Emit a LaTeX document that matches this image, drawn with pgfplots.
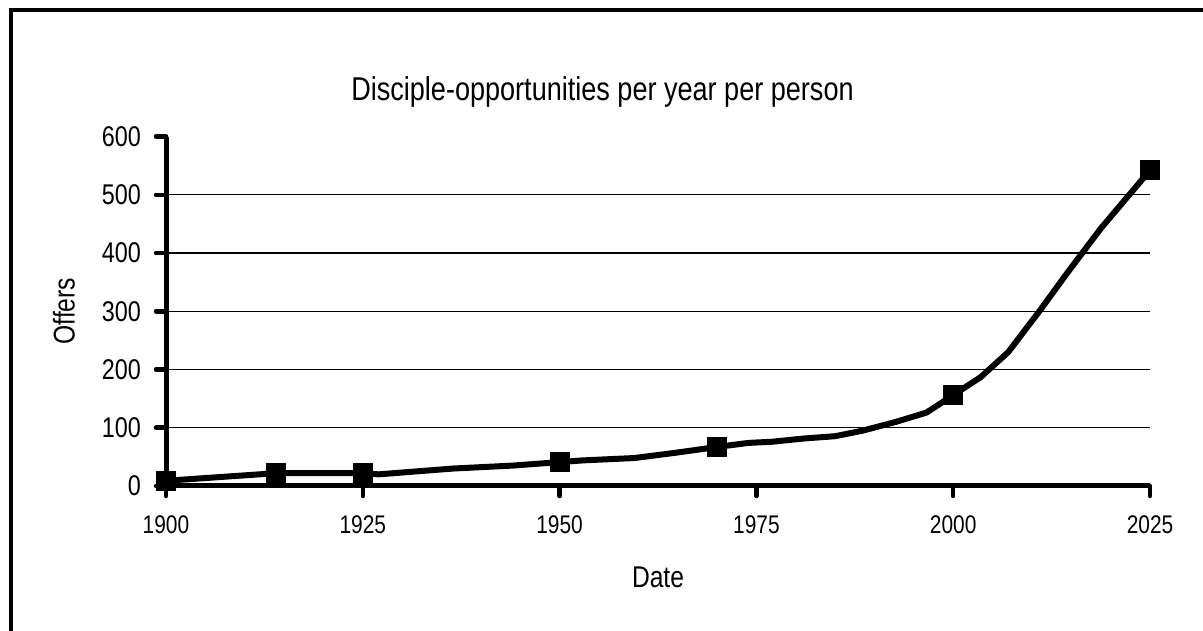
\documentclass[border=0pt]{standalone}
\usepackage{fontspec}
\setmainfont{Liberation Sans}[FakeStretch=0.82]
\usepackage{pgfplots}
\pgfplotsset{compat=1.18}
\begin{document}
\begin{tikzpicture}
\useasboundingbox (0,0) rectangle (1203bp,631bp);
\draw[line width=4bp] (10.5bp,0) -- (10.5bp,621bp) -- (1203bp,621bp);
\begin{axis}[
  at={(166bp,145bp)}, anchor=south west,
  scale only axis, width=984bp, height=349.5bp,
  xmin=1900, xmax=2025, ymin=0, ymax=600,
  axis x line=bottom, axis y line=left,
  axis line style={-, line width=5bp, black},
  xtick={1900,1925,1950,1975,2000,2025},
  ytick={0,100,200,300,400,500,600},
  tick align=outside, major tick length=10bp,
  major tick style={line width=4.5bp, line cap=round, black},
  extra y ticks={100,200,300,400,500},
  extra y tick labels={},
  extra y tick style={grid=major, major tick length=0pt},
  grid style={line width=1.3bp, black},
  clip=false,
  /pgf/number format/1000 sep={},
  /pgf/number format/assume math mode=true,
  xticklabel style={font=\fontsize{25.5bp}{30bp}\selectfont, inner sep=0pt, anchor=north, yshift=-19bp},
  yticklabel style={font=\fontsize{28.5bp}{34bp}\selectfont, inner sep=0pt, anchor=east, xshift=-15bp},
  title={Disciple-opportunities per year per person},
  title style={font=\fontsize{33bp}{40bp}\selectfont, at={(axis description cs:0.4436,1.0873)}, anchor=base, inner sep=0pt},
  xlabel={Date},
  xlabel style={font=\fontsize{30bp}{36bp}\selectfont, at={(axis description cs:0.5,-0.289)}, anchor=base, inner sep=0pt},
  ylabel={Offers},
  ylabel style={font=\fontsize{30bp}{36bp}\selectfont, at={(axis description cs:-0.1037,0.5)}, anchor=center, inner sep=0pt},
]
\addplot[black, line width=6bp, line join=round, no marks] coordinates {
(1900,9) (1914,22) (1925,22) (1927,20) (1936.5,30) (1944,35) (1950,41)
(1953,44) (1959.5,48) (1964.7,57) (1970,67) (1974,74) (1977,76)
(1981,81.5) (1985,85.5) (1988.5,95) (1992.7,110) (1996.6,126) (2000,156)
(2003.5,187) (2007,230) (2011,301) (2014.5,366) (2018.8,443) (2025,542)
};
\addplot[only marks, mark=square*, mark size=9.5bp, mark options={fill=black, draw=black, line width=1bp}] coordinates {
(1900,9) (1914,22) (1925,22) (1950,41) (1970,67) (2000,156) (2025,542)
};
\end{axis}
\end{tikzpicture}
\end{document}
